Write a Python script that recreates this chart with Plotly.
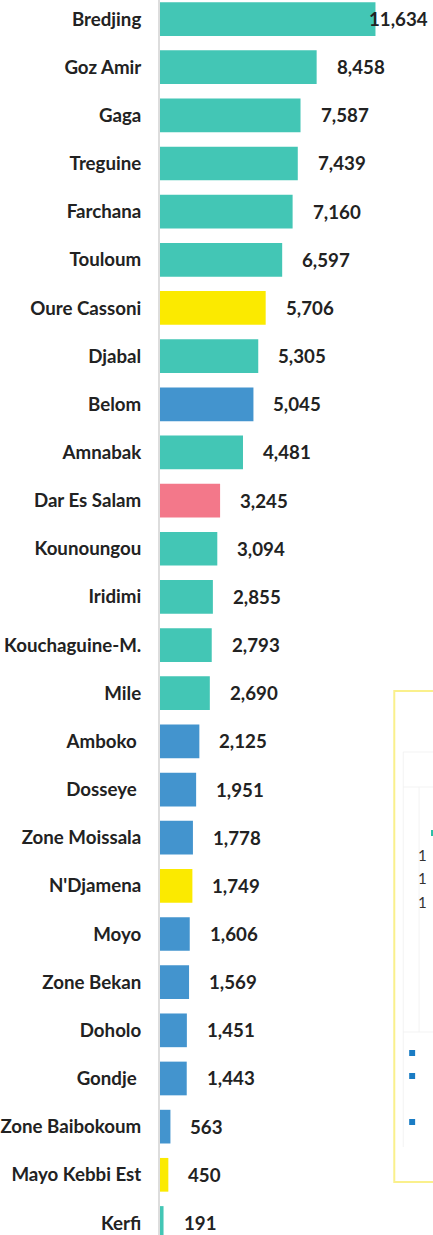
import plotly.graph_objects as go

categories = ["Bredjing", "Goz Amir", "Gaga", "Treguine", "Farchana", "Touloum",
              "Oure Cassoni", "Djabal", "Belom", "Amnabak", "Dar Es Salam", "Kounoungou",
              "Iridimi", "Kouchaguine-M.", "Mile", "Amboko ", "Dosseye ", "Zone Moissala",
              "N'Djamena", "Moyo", "Zone Bekan", "Doholo", "Gondje ", "Zone Baibokoum",
              "Mayo Kebbi Est", "Kerfi"]
values = [11634, 8458, 7587, 7439, 7160, 6597, 5706, 5305, 5045, 4481, 3245, 3094,
          2855, 2793, 2690, 2125, 1951, 1778, 1749, 1606, 1569, 1451, 1443, 563, 450, 191]
groups = ["east", "east", "east", "east", "east", "east", "urban", "east", "south", "east",
          "lake", "east", "east", "east", "east", "south", "south", "south", "urban", "south",
          "south", "south", "south", "south", "urban", "east"]

palette = {"east": "#43C6B5", "urban": "#FBEA00", "south": "#4394CE", "lake": "#F3788A"}
colors = [palette[g] for g in groups]

W, H = 433, 1235
ML = 158
XMAX = 14740
FS = 18.7

fig = go.Figure(go.Bar(
    y=categories, x=values, orientation="h",
    marker=dict(color=colors, line=dict(width=0)),
    hoverinfo="y+x", showlegend=False,
))

annotations = []
for c, v in zip(categories, values):
    label = f"{v:,}"
    est_w = len(label) * 10
    px_end = v / XMAX * (W - ML)
    font = dict(family="Lato", size=FS, color="#222222", weight="bold")
    if px_end + 20 + est_w > (W - ML) - 5:
        annotations.append(dict(x=XMAX, y=c, xref="x", yref="y", text=label, showarrow=False,
                                xanchor="right", xshift=-3, font=font))
    else:
        annotations.append(dict(x=v, y=c, xref="x", yref="y", text=label, showarrow=False,
                                xanchor="left", xshift=18, font=font))

def px_x(p):
    return (p - ML) / (W - ML)

def px_y(p):
    return 1 - p / H

faint = "#F3F3F3"
shapes = [
    dict(type="rect", xref="paper", yref="paper", x0=px_x(394), x1=px_x(445),
         y0=px_y(1182), y1=px_y(691), line=dict(color="#FAF08C", width=2), fillcolor="rgba(0,0,0,0)"),
    dict(type="line", xref="paper", yref="paper", x0=px_x(403), x1=px_x(403),
         y0=px_y(1147), y1=px_y(752), line=dict(color=faint, width=1)),
    dict(type="line", xref="paper", yref="paper", x0=px_x(403), x1=px_x(440),
         y0=px_y(752), y1=px_y(752), line=dict(color=faint, width=1)),
    dict(type="line", xref="paper", yref="paper", x0=px_x(403), x1=px_x(440),
         y0=px_y(787), y1=px_y(787), line=dict(color=faint, width=1)),
    dict(type="line", xref="paper", yref="paper", x0=px_x(419), x1=px_x(419),
         y0=px_y(1032), y1=px_y(787), line=dict(color=faint, width=1)),
    dict(type="line", xref="paper", yref="paper", x0=px_x(403), x1=px_x(440),
         y0=px_y(1032), y1=px_y(1032), line=dict(color=faint, width=1)),
    dict(type="rect", xref="paper", yref="paper", x0=px_x(431), x1=px_x(437),
         y0=px_y(836), y1=px_y(830), line=dict(width=0), fillcolor="#2BBFA6"),
]
for yy in [1053, 1076, 1122]:
    shapes.append(dict(type="rect", xref="paper", yref="paper", x0=px_x(409), x1=px_x(415),
                       y0=px_y(yy + 3), y1=px_y(yy - 3), line=dict(width=0), fillcolor="#1A7CC4"))
for yy in [855, 878, 902]:
    annotations.append(dict(x=px_x(416), y=px_y(yy), xref="paper", yref="paper", text="1",
                            showarrow=False, xanchor="left", yanchor="middle",
                            font=dict(family="Lato", size=15, color="#333333")))

fig.update_layout(
    width=W, height=H,
    margin=dict(l=ML, r=0, t=0, b=0),
    paper_bgcolor="white", plot_bgcolor="white",
    bargap=0.3,
    font=dict(family="Lato", size=FS, color="#222222"),
    xaxis=dict(range=[0, XMAX], visible=False, showgrid=False, zeroline=False),
    yaxis=dict(range=[25.25, -0.395], type="category",
               showline=True, linecolor="#DDDDDD", linewidth=2,
               showgrid=False, zeroline=False, ticks="",
               ticklabelstandoff=13,
               tickfont=dict(family="Lato", size=FS, color="#222222", weight="bold")),
    annotations=annotations,
    shapes=shapes,
)

fig.write_html("out.html", config={"displayModeBar": False},
               post_script="document.body.style.margin='0';document.body.style.overflow='hidden';")
